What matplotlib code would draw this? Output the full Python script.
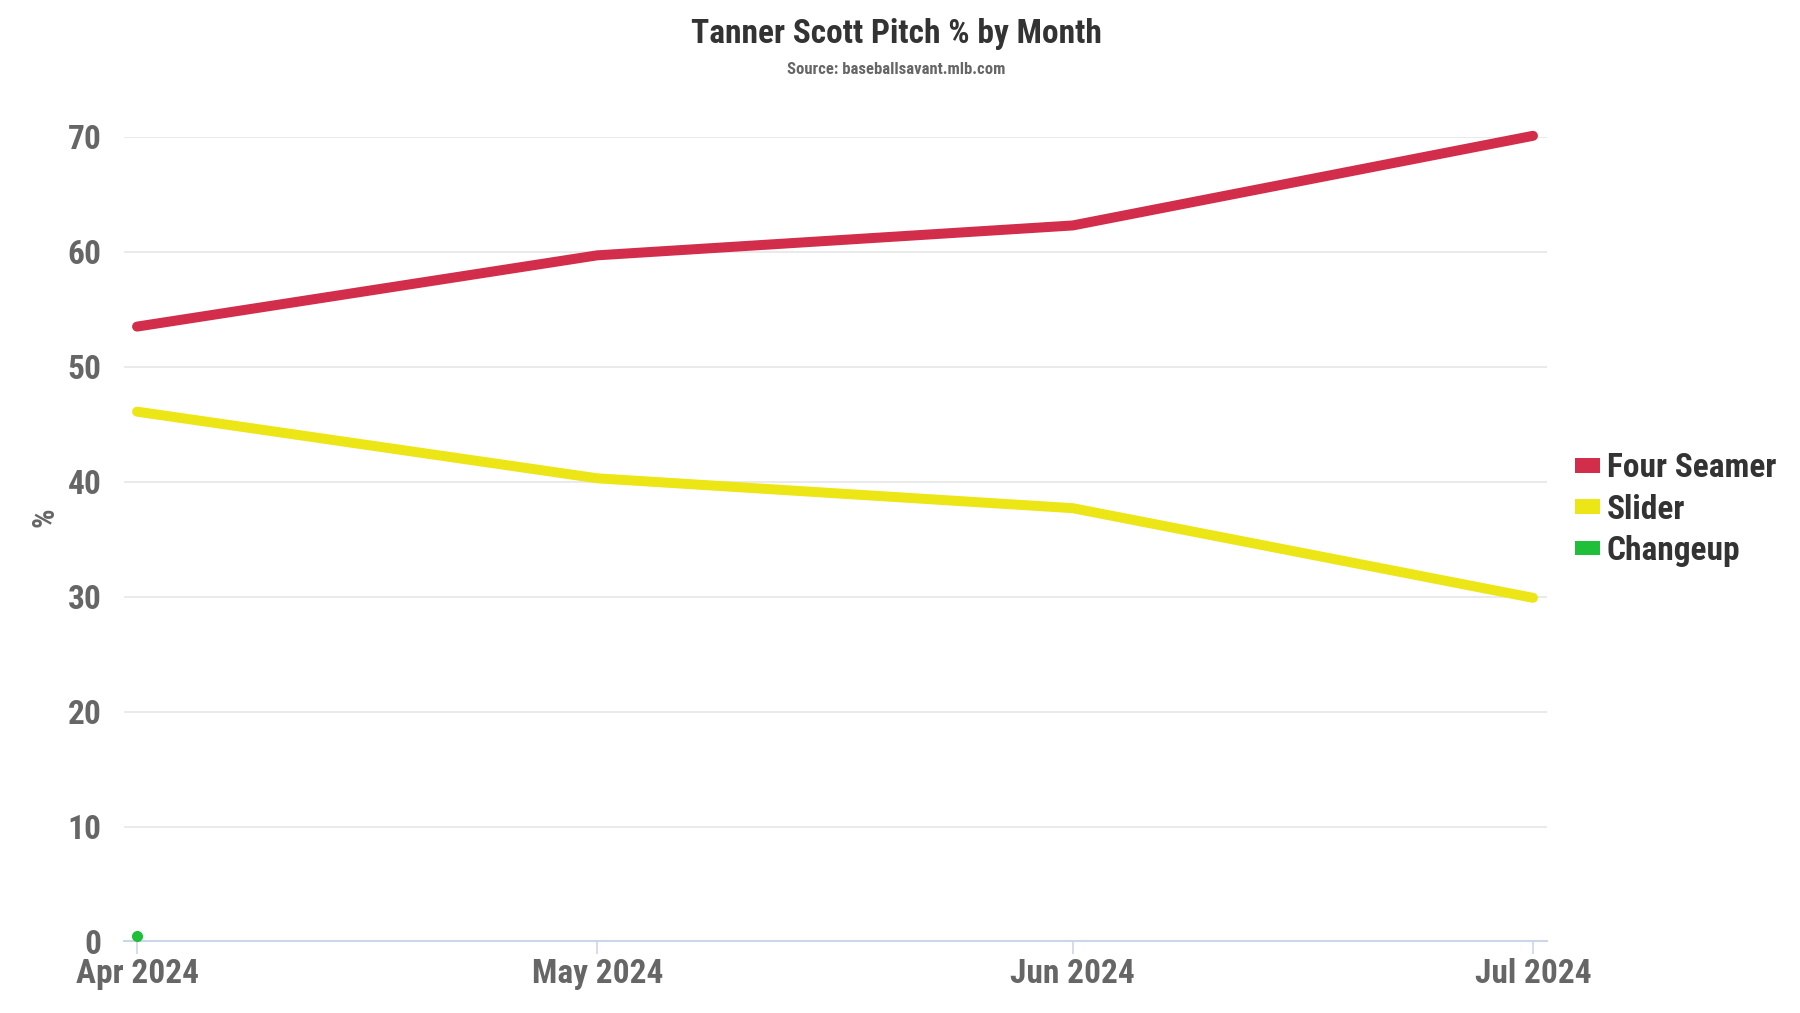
import datetime as dt
import numpy as np
import matplotlib.pyplot as plt
import matplotlib.dates as mdates
from matplotlib.patches import Patch

plt.rcParams['font.family'] = ['Roboto Condensed', 'Liberation Sans Narrow', 'Roboto', 'DejaVu Sans']
plt.rcParams['font.weight'] = 'bold'

months = [dt.date(2024, 4, 1), dt.date(2024, 5, 1), dt.date(2024, 6, 1), dt.date(2024, 7, 1)]
month_labels = ['Apr 2024', 'May 2024', 'Jun 2024', 'Jul 2024']
four_seamer = [53.5, 59.7, 62.3, 70.1]
slider = [46.1, 40.3, 37.7, 29.9]
changeup_months = [dt.date(2024, 4, 1)]
changeup = [0.5]

names = ['Four Seamer', 'Slider', 'Changeup']
colors = ['#d22d4a', '#ede617', '#1fbf3a']

fig = plt.figure(figsize=(18, 10.13), dpi=100)
ax = fig.add_axes([0.0689, 0.0706, 0.7905, 0.7942])

x = mdates.date2num(months)
ax.plot(x, four_seamer, color=colors[0], lw=7.2, solid_capstyle='round',
        solid_joinstyle='round', clip_on=False, zorder=3)
ax.plot(x, slider, color=colors[1], lw=7.2, solid_capstyle='round',
        solid_joinstyle='round', clip_on=False, zorder=3)
ax.plot(mdates.date2num(changeup_months), changeup, 'o', color=colors[2],
        ms=7, clip_on=False, zorder=3)

ax.set_xlim(x[0] - 0.85, x[-1] + 0.91)
ax.set_ylim(0, 70)
ax.set_yticks(np.arange(0, 71, 10))
ax.set_xticks(x)
ax.set_xticklabels(month_labels)

ax.grid(axis='y', color='#e6e6e6', lw=1.2)
ax.set_axisbelow(True)
for s in ['top', 'right', 'left']:
    ax.spines[s].set_visible(False)
ax.spines['bottom'].set_color('#ccd6eb')
ax.spines['bottom'].set_linewidth(1.5)
ax.tick_params(axis='x', length=9.5, width=1.2, color='#ccd6eb', pad=2.5,
               labelsize=24, labelcolor='#666666')
ax.tick_params(axis='y', length=0, pad=16, labelsize=24, labelcolor='#666666')

ax.set_ylabel('%', fontsize=22, color='#666666', fontweight='bold')
ax.yaxis.set_label_coords(-0.0456, 0.528)

fig.text(0.4978, 0.966, 'Tanner Scott Pitch % by Month', ha='center', va='center',
         fontsize=24, color='#333333', fontweight='bold')
fig.text(0.4978, 0.931, 'Source: baseballsavant.mlb.com', ha='center', va='center',
         fontsize=12, color='#666666', fontweight='bold')

handles = [Patch(facecolor=c, edgecolor='none') for c in colors]
leg = fig.legend(handles, names, loc='center left', bbox_to_anchor=(0.875, 0.497),
                 frameon=False, handlelength=0.75, handleheight=0.3,
                 handletextpad=0.2, labelspacing=0.28, borderaxespad=0,
                 borderpad=0, prop={'size': 24, 'weight': 'bold'})
for t in leg.get_texts():
    t.set_color('#333333')

fig.savefig('out.png', dpi=100, facecolor='white')
